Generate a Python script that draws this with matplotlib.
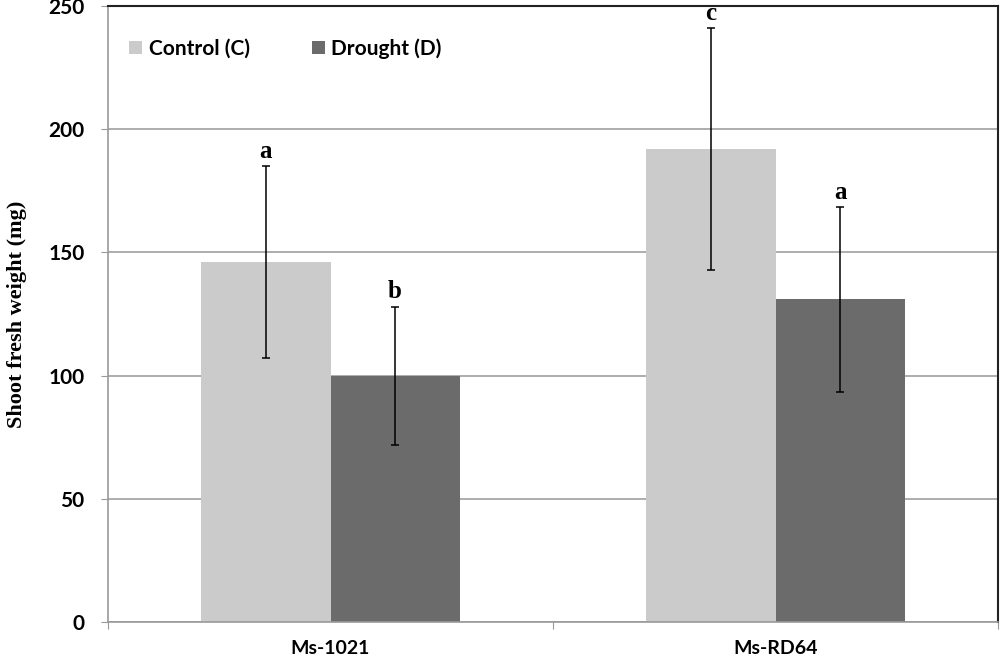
import matplotlib
matplotlib.use("Agg")
import matplotlib.pyplot as plt
import numpy as np

categories = ["Ms-1021", "Ms-RD64"]
series_names = ["Control (C)", "Drought (D)"]
control = [146, 192]
drought = [100, 131]
control_err = [39, 49]
drought_err = [28, 37.5]
control_letters = ["a", "c"]
drought_letters = ["b", "a"]
yticks = [0, 50, 100, 150, 200, 250]

fig = plt.figure(figsize=(10, 6.58), dpi=100)
ax = fig.add_axes([0.108, 1 - 622 / 658, (998 - 108) / 1000, (622 - 6) / 658])

x = np.arange(len(categories))
w = 0.29
c_col = "#cbcbcb"
d_col = "#6b6b6b"
ax.bar(x - w / 2, control, w, color=c_col, label=series_names[0], zorder=2)
ax.bar(x + w / 2, drought, w, color=d_col, label=series_names[1], zorder=2)
ax.errorbar(x - w / 2, control, yerr=control_err, fmt="none", ecolor="black",
            elinewidth=1.1, capsize=2.6, capthick=1.1, zorder=3)
ax.errorbar(x + w / 2, drought, yerr=drought_err, fmt="none", ecolor="black",
            elinewidth=1.1, capsize=2.6, capthick=1.1, zorder=3)

for xi, v, e, t in zip(x - w / 2, control, control_err, control_letters):
    ax.text(xi, v + e + 3.3, t, ha="center", va="baseline", fontsize=18,
            fontweight="bold", family="Liberation Serif", clip_on=False)
for xi, v, e, t in zip(x + w / 2, drought, drought_err, drought_letters):
    ax.text(xi, v + e + 3.3, t, ha="center", va="baseline", fontsize=18,
            fontweight="bold", family="Liberation Serif", clip_on=False)

ax.set_xlim(-0.5, 1.5)
ax.set_ylim(0, 250)
ax.set_yticks(yticks)
ax.set_yticklabels([str(t) for t in yticks], fontsize=15, fontweight="bold", family="Lato")
ax.yaxis.grid(True, color="#a0a0a0", linewidth=1.2, zorder=0)
ax.set_axisbelow(True)

ax.set_xticks([-0.5, 0.5, 1.5])
ax.set_xticklabels([])
ax.set_xticks(x, minor=True)
ax.set_xticklabels(categories, minor=True, fontsize=14, fontweight="bold", family="Lato")
ax.tick_params(axis="x", which="minor", length=0, pad=13)
ax.tick_params(axis="x", which="major", length=5, direction="out", color="#999999")
ax.tick_params(axis="y", length=5, direction="out", color="#999999", pad=12)

for s in ["left", "bottom"]:
    ax.spines[s].set_color("#999999")
    ax.spines[s].set_linewidth(1.2)
for s in ["top", "right"]:
    ax.spines[s].set_color("#222222")
    ax.spines[s].set_linewidth(1.5)

ax.set_ylabel("Shoot fresh weight (mg)", fontsize=16, fontweight="bold",
              family="Liberation Serif", labelpad=15)

leg = ax.legend(loc="upper left", ncol=2, frameon=False, bbox_to_anchor=(0.024, 0.948),
                borderpad=0, borderaxespad=0,
                prop={"family": "Lato", "weight": "bold", "size": 15},
                handlelength=0.62, handleheight=0.62, columnspacing=3.0, handletextpad=0.3)

fig.savefig("out.png", dpi=100)
